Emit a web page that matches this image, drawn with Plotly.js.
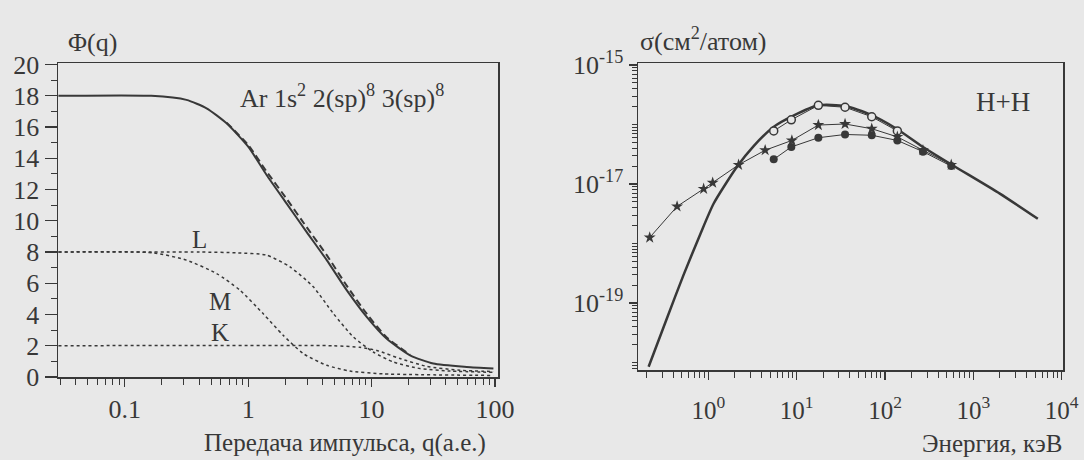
<!DOCTYPE html>
<html>
<head>
<meta charset="utf-8">
<script src="https://cdn.plot.ly/plotly-3.0.1.min.js"></script>
<style>
  html, body { margin: 0; padding: 0; background: #e8e8e8; }
  #chart { width: 1084px; height: 460px; }
</style>
</head>
<body>
<div id="chart"></div>
<script>
// ---------- Left panel: form factor Φ(q) for Ar ----------
const qTotal   = [0.029, 0.164, 0.316, 0.46, 0.668, 1.0, 1.41, 2.05, 2.97, 4.33, 6.28, 9.12, 13.2, 20.5, 31.6, 58.9, 97];
const phiTotal = [18.0, 18.0, 17.74, 17.2, 16.24, 14.74, 12.93, 11.1, 9.29, 7.48, 5.56, 3.85, 2.46, 1.39, 0.86, 0.64, 0.54];

const qDash    = [0.668, 1.0, 1.41, 2.05, 2.97, 4.33, 6.28, 9.12, 13.2, 20.5];
const phiDash  = [16.28, 14.85, 13.15, 11.4, 9.6, 7.8, 5.85, 4.05, 2.55, 1.42];

const qL   = [0.029, 0.407, 0.8, 1.41, 2.18, 3.37, 4.9, 7.11, 10.3, 15.0, 24.7, 43.3, 97];
const phiL = [8.0, 8.0, 7.95, 7.8, 7.05, 5.77, 4.06, 2.56, 1.6, 0.96, 0.54, 0.38, 0.3];

const qM   = [0.029, 0.17, 0.316, 0.553, 0.857, 1.32, 1.92, 2.79, 4.33, 6.68, 12.4, 97];
const phiM = [8.0, 7.95, 7.48, 6.63, 5.56, 4.06, 2.67, 1.5, 0.75, 0.38, 0.2, 0.1];

const qK   = [0.029, 4.9, 8.05, 11.0, 17.0, 28.0, 52.0, 97];
const phiK = [2.0, 2.0, 1.9, 1.7, 1.18, 0.68, 0.43, 0.35];

// ---------- Right panel: σ(E) for H+H ----------
const eCurve   = [0.211, 0.341, 0.526, 0.813, 1.15, 2.11, 3.24, 5.47, 9.2, 17.6, 35.3, 67.6, 135, 269, 589, 1995, 5370];
const sigCurve = [8.5e-21, 5.6e-20, 3.0e-19, 1.45e-18, 4.7e-18, 1.95e-17, 4.3e-17, 9.1e-17, 1.41e-16, 2.1e-16, 2.05e-16, 1.48e-16, 8.5e-17, 4.2e-17, 2.05e-17, 6.9e-18, 2.6e-18];

const eOpen   = [5.5, 8.7, 17.6, 35.3, 70.8, 138];
const sigOpen = [7.8e-17, 1.2e-16, 2.1e-16, 1.95e-16, 1.35e-16, 7.8e-17];

const eStar   = [0.217, 0.443, 0.885, 1.12, 2.2, 4.4, 8.83, 17.6, 35.3, 70.8, 138, 269, 562];
const sigStar = [1.26e-18, 4.2e-18, 8.3e-18, 1.05e-17, 2.1e-17, 3.7e-17, 5.4e-17, 9.8e-17, 1.02e-16, 8.5e-17, 6.2e-17, 3.7e-17, 2.1e-17];

const eFilled   = [5.5, 8.7, 17.6, 35.3, 70.8, 138, 269, 562];
const sigFilled = [2.6e-17, 4.2e-17, 6.0e-17, 6.8e-17, 6.6e-17, 5.4e-17, 3.5e-17, 2.0e-17];

// ---------- Tick labels ----------
const leftXTickVals = [0.1, 1, 10, 100];
const leftXTickText = ['0.1', '1', '10', '100'];
const leftYTickVals = [0, 2, 4, 6, 8, 10, 12, 14, 16, 18, 20];
const rightXTickVals = [1, 10, 100, 1000, 10000];
const rightXTickText = ['10<sup>0</sup>', '10<sup>1</sup>', '10<sup>2</sup>', '10<sup>3</sup>', '10<sup>4</sup>'];
const rightYTickVals = [1e-15, 1e-17, 1e-19];
const rightYTickText = ['10<sup>-15</sup>', '10<sup>-17</sup>', '10<sup>-19</sup>'];

function logMinors(lowExp, highExp) {
  const out = [];
  for (let e = lowExp; e <= highExp; e++) {
    for (let m = 1; m <= 9; m++) out.push(m * Math.pow(10, e));
  }
  return out;
}

const ink = '#383838';
const bg = '#e8e8e8';
const fontFam = 'Liberation Serif, Times New Roman, serif';

const traces = [
  { x: qTotal, y: phiTotal, xaxis: 'x', yaxis: 'y', mode: 'lines', line: { color: ink, width: 2, shape: 'spline', smoothing: 0.6 }, hoverinfo: 'skip' },
  { x: qDash, y: phiDash, xaxis: 'x', yaxis: 'y', mode: 'lines', line: { color: ink, width: 2, dash: '7px,4px', shape: 'spline', smoothing: 0.6 }, hoverinfo: 'skip' },
  { x: qL, y: phiL, xaxis: 'x', yaxis: 'y', mode: 'lines', line: { color: ink, width: 1.5, dash: 'dot', shape: 'spline', smoothing: 0.6 }, hoverinfo: 'skip' },
  { x: qM, y: phiM, xaxis: 'x', yaxis: 'y', mode: 'lines', line: { color: ink, width: 1.5, dash: 'dot', shape: 'spline', smoothing: 0.6 }, hoverinfo: 'skip' },
  { x: qK, y: phiK, xaxis: 'x', yaxis: 'y', mode: 'lines', line: { color: ink, width: 1.5, dash: 'dot', shape: 'spline', smoothing: 0.6 }, hoverinfo: 'skip' },

  { x: eCurve, y: sigCurve, xaxis: 'x2', yaxis: 'y2', mode: 'lines', line: { color: ink, width: 2.5, shape: 'spline', smoothing: 0.6 }, hoverinfo: 'skip' },
  { x: eOpen, y: sigOpen, xaxis: 'x2', yaxis: 'y2', mode: 'lines+markers', line: { color: ink, width: 1 }, marker: { symbol: 'circle', size: 8, color: bg, line: { color: ink, width: 1.5 } }, hoverinfo: 'skip' },
  { x: eStar, y: sigStar, xaxis: 'x2', yaxis: 'y2', mode: 'lines+markers', line: { color: ink, width: 1 }, marker: { symbol: 'star', size: 9, color: ink }, hoverinfo: 'skip' },
  { x: eFilled, y: sigFilled, xaxis: 'x2', yaxis: 'y2', mode: 'lines+markers', line: { color: ink, width: 1 }, marker: { symbol: 'circle', size: 8, color: ink }, hoverinfo: 'skip' }
];

const W = 1084, H = 460;
const px = v => v / W;
const py = v => 1 - v / H;

const axisCommon = {
  showline: true, mirror: true, linecolor: ink, linewidth: 1.5,
  ticks: 'outside', tickcolor: ink, tickwidth: 1.2,
  showgrid: false, zeroline: false,
  tickfont: { family: fontFam, size: 26, color: ink }
};

const layout = {
  width: W, height: H,
  margin: { l: 0, r: 0, t: 0, b: 0 },
  paper_bgcolor: bg, plot_bgcolor: bg,
  showlegend: false,
  font: { family: fontFam, color: ink, size: 24 },
  xaxis: Object.assign({}, axisCommon, {
    type: 'log', domain: [px(58), px(498)], range: [-1.541, 2.024], anchor: 'y',
    tickmode: 'array', tickvals: leftXTickVals, ticktext: leftXTickText, ticklen: 8,
    ticklabelstandoff: 0,
    minor: { ticks: 'outside', ticklen: 6, tickcolor: ink, tickwidth: 1, tickvals: logMinors(-2, 1), showgrid: false }
  }),
  yaxis: Object.assign({}, axisCommon, {
    domain: [py(377), py(63)], range: [0, 20.1], anchor: 'x',
    tickmode: 'array', tickvals: leftYTickVals, ticklen: 12,
    minor: { ticks: 'outside', ticklen: 6, tickcolor: ink, tickwidth: 1, dtick: 1, showgrid: false }
  }),
  xaxis2: Object.assign({}, axisCommon, {
    type: 'log', domain: [px(638), px(1063)], range: [-0.796, 4.015], anchor: 'y2',
    tickmode: 'array', tickvals: rightXTickVals, ticktext: rightXTickText, ticklen: 8,
    ticklabelstandoff: 9,
    tickfont: { family: fontFam, size: 25, color: ink },
    minor: { ticks: 'outside', ticklen: 6, tickcolor: ink, tickwidth: 1, tickvals: logMinors(-1, 3), showgrid: false }
  }),
  yaxis2: Object.assign({}, axisCommon, {
    type: 'log', domain: [py(370), py(63)], range: [-20.126, -14.966], anchor: 'x2',
    tickmode: 'array', tickvals: rightYTickVals, ticktext: rightYTickText, ticklen: 8,
    minor: { ticks: 'outside', ticklen: 5, tickcolor: ink, tickwidth: 1, tickvals: logMinors(-21, -15), showgrid: false }
  }),
  annotations: [
    { text: 'Φ(q)', xref: 'paper', yref: 'paper', x: px(66), y: py(42), xanchor: 'left', yanchor: 'middle', showarrow: false, font: { size: 26 } },
    { text: 'σ(см<sup>2</sup>/атом)', xref: 'paper', yref: 'paper', x: px(638), y: py(40), xanchor: 'left', yanchor: 'middle', showarrow: false, font: { size: 26 } },
    { text: 'Передача импульса, q(а.е.)', xref: 'paper', yref: 'paper', x: px(202), y: py(443), xanchor: 'left', yanchor: 'middle', showarrow: false, font: { size: 25 } },
    { text: 'Энергия, кэВ', xref: 'paper', yref: 'paper', x: px(1064), y: py(443), xanchor: 'right', yanchor: 'middle', showarrow: false, font: { size: 25 } },
    { text: 'Ar 1s<sup>2</sup> 2(sp)<sup>8</sup> 3(sp)<sup>8</sup>', xref: 'paper', yref: 'paper', x: px(238), y: py(96), xanchor: 'left', yanchor: 'middle', showarrow: false, font: { size: 26 } },
    { text: 'L', xref: 'paper', yref: 'paper', x: px(199), y: py(239), xanchor: 'center', yanchor: 'middle', showarrow: false, font: { size: 25 } },
    { text: 'M', xref: 'paper', yref: 'paper', x: px(220), y: py(301), xanchor: 'center', yanchor: 'middle', showarrow: false, font: { size: 25 } },
    { text: 'K', xref: 'paper', yref: 'paper', x: px(220), y: py(332), xanchor: 'center', yanchor: 'middle', showarrow: false, font: { size: 25 } },
    { text: 'H+H', xref: 'paper', yref: 'paper', x: px(1003), y: py(102), xanchor: 'center', yanchor: 'middle', showarrow: false, font: { size: 27 } }
  ]
};

Plotly.newPlot('chart', traces, layout, { staticPlot: true, displayModeBar: false });
</script>
</body>
</html>
